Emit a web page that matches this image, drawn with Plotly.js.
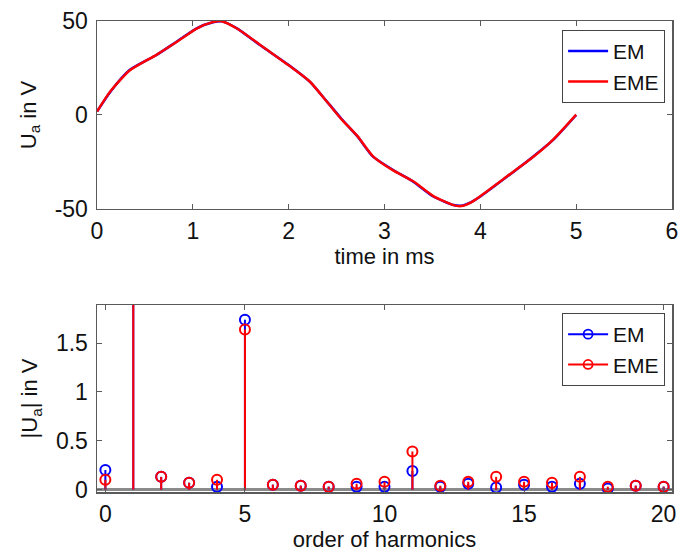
<!DOCTYPE html>
<html>
<head>
<meta charset="utf-8">
<script src="https://cdn.plot.ly/plotly-3.0.1.min.js"></script>
<style>html,body{margin:0;padding:0;background:#fff;}#chart{width:678px;height:556px;}</style>
</head>
<body>
<div id="chart"></div>
<script>
// ---- time-domain signal (ms, V) ----
var timeMs = [0, 0.14, 0.34, 0.62, 0.83, 1.04, 1.21, 1.30, 1.46, 1.70, 2.00, 2.22, 2.40, 2.55, 2.72, 2.88, 3.09, 3.30, 3.51, 3.72, 3.80, 3.90, 4.00, 4.28, 4.55, 4.76, 5.00];
var uaEM   = [1.8, 12.4, 23.9, 31.9, 39.0, 46.1, 49.3, 49.8, 46.1, 37.2, 26.6, 17.7, 7.1, -2.0, -11.5, -22.2, -29.3, -35.5, -43.4, -47.9, -48.3, -46.5, -43.4, -32.8, -22.2, -13.3, 0.0];
var uaEME  = [1.8, 12.6, 23.7, 32.0, 38.8, 46.0, 49.4, 49.9, 46.0, 37.4, 26.4, 17.8, 7.0, -2.2, -11.4, -22.0, -29.5, -35.3, -43.2, -48.0, -48.5, -46.6, -43.2, -32.6, -22.4, -13.1, 0.2];
var uaTickVals = [-50, 0, 50];
var uaTickText = ['-50', '0', '50'];

// ---- harmonic spectrum ----
var harmOrder = [0, 1, 2, 3, 4, 5, 6, 7, 8, 9, 10, 11, 12, 13, 14, 15, 16, 17, 18, 19, 20];
var harmEM    = [0.20, 46.5, 0.13, 0.07, 0.03, 1.74, 0.05, 0.04, 0.03, 0.03, 0.03, 0.19, 0.03, 0.06, 0.02, 0.05, 0.03, 0.06, 0.01, 0.04, 0.03];
var harmEME   = [0.10, 46.5, 0.13, 0.07, 0.10, 1.64, 0.05, 0.04, 0.03, 0.06, 0.08, 0.39, 0.04, 0.08, 0.13, 0.08, 0.07, 0.13, 0.03, 0.04, 0.03];
var harmTickVals = [0, 0.5, 1, 1.5];
var harmTickText = ['0', '0.5', '1', '1.5'];

var seriesNames = ['EM', 'EME'];
var BLUE = '#0000ff', RED = '#ff0000';
var FONT = 'Liberation Sans, Arial, sans-serif';
var TXT = '#111';

function stems(xs, ys) {
  var sx = [], sy = [];
  for (var i = 0; i < xs.length; i++) { sx.push(xs[i], xs[i], null); sy.push(0, ys[i], null); }
  return {x: sx, y: sy};
}

var sEM = stems(harmOrder, harmEM), sEME = stems(harmOrder, harmEME);

var traces = [
  {x: timeMs, y: uaEM, type: 'scatter', mode: 'lines', name: seriesNames[0], line: {color: BLUE, width: 2.5, shape: 'spline', smoothing: 0.6}, xaxis: 'x', yaxis: 'y', legend: 'legend'},
  {x: timeMs, y: uaEME, type: 'scatter', mode: 'lines', name: seriesNames[1], line: {color: RED, width: 2.5, shape: 'spline', smoothing: 0.6}, xaxis: 'x', yaxis: 'y', legend: 'legend'},
  // baseline
  {x: [-0.3, 20.3], y: [0, 0], type: 'scatter', mode: 'lines', line: {color: '#8a8a8a', width: 3}, xaxis: 'x2', yaxis: 'y2', showlegend: false, hoverinfo: 'skip'},
  {x: sEM.x, y: sEM.y, type: 'scatter', mode: 'lines', line: {color: BLUE, width: 2}, xaxis: 'x2', yaxis: 'y2', showlegend: false},
  {x: harmOrder, y: harmEM, type: 'scatter', mode: 'markers', marker: {symbol: 'circle-open', size: 10, color: BLUE, line: {width: 2}}, xaxis: 'x2', yaxis: 'y2', showlegend: false, cliponaxis: true},
  {x: sEME.x, y: sEME.y, type: 'scatter', mode: 'lines', line: {color: RED, width: 2}, xaxis: 'x2', yaxis: 'y2', showlegend: false},
  {x: harmOrder, y: harmEME, type: 'scatter', mode: 'markers', marker: {symbol: 'circle-open', size: 10, color: RED, line: {width: 2}}, xaxis: 'x2', yaxis: 'y2', showlegend: false, cliponaxis: true},
  // legend entries for the stem plot
  {x: [null], y: [null], type: 'scatter', mode: 'lines+markers', name: seriesNames[0], line: {color: BLUE, width: 2}, marker: {symbol: 'circle-open', size: 9, color: BLUE, line: {width: 1.8}}, xaxis: 'x2', yaxis: 'y2', legend: 'legend2'},
  {x: [null], y: [null], type: 'scatter', mode: 'lines+markers', name: seriesNames[1], line: {color: RED, width: 2}, marker: {symbol: 'circle-open', size: 9, color: RED, line: {width: 1.8}}, xaxis: 'x2', yaxis: 'y2', legend: 'legend2'}
];

var axCommon = {
  showline: true, linecolor: '#5a5a5a', linewidth: 1.5, mirror: 'ticks',
  ticks: 'inside', ticklen: 5, tickcolor: '#5a5a5a', showgrid: false, zeroline: false,
  ticklabeloverflow: 'allow',
  tickfont: {family: FONT, size: 23, color: TXT}
};
function ax(extra) { return Object.assign({}, axCommon, extra); }
var titleFont = {family: FONT, size: 22, color: TXT};

var layout = {
  width: 678, height: 556,
  margin: {l: 97, r: 6, t: 21, b: 64},
  paper_bgcolor: '#fff', plot_bgcolor: '#fff',
  font: {family: FONT, size: 21, color: TXT},
  xaxis: ax({domain: [0, 1], anchor: 'y', range: [0, 6], dtick: 1, ticklabelstandoff: 1,
    title: {text: 'time in ms', font: titleFont, standoff: 2}}),
  yaxis: ax({domain: [0.601, 1], anchor: 'x', range: [-50, 50], tickvals: uaTickVals, ticktext: uaTickText, ticklabelstandoff: 3,
    title: {text: 'U<sub>a</sub> in V', font: titleFont, standoff: 12}}),
  xaxis2: ax({domain: [0, 1], anchor: 'y2', range: [-0.3, 20.3], dtick: 5, ticklabelstandoff: 1,
    title: {text: 'order of harmonics', font: titleFont, standoff: 4}}),
  yaxis2: ax({domain: [0, 0.397], anchor: 'x2', range: [-0.025, 1.89], tickvals: harmTickVals, ticktext: harmTickText, ticklabelstandoff: 3,
    title: {text: '|U<sub>a</sub>| in V', font: titleFont, standoff: 12}}),
  legend: {x: 0.988, y: 0.981, xanchor: 'right', yanchor: 'top', bgcolor: '#fff', bordercolor: '#444', borderwidth: 1,
    font: {family: FONT, size: 21, color: TXT}, itemwidth: 40, tracegroupgap: 0},
  legend2: {x: 0.988, y: 0.38, xanchor: 'right', yanchor: 'top', bgcolor: '#fff', bordercolor: '#444', borderwidth: 1,
    font: {family: FONT, size: 21, color: TXT}, itemwidth: 40, tracegroupgap: 0},
  showlegend: true
};

Plotly.newPlot('chart', traces, layout, {displayModeBar: false, staticPlot: true});
</script>
</body>
</html>
